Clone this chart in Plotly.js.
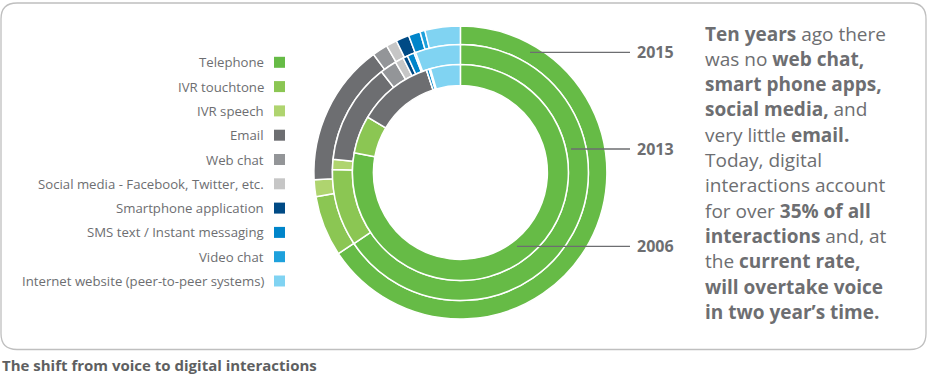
<!DOCTYPE html>
<html>
<head>
<meta charset="utf-8">
<script src="https://cdn.plot.ly/plotly-3.0.1.min.js"></script>
<style>html,body{margin:0;padding:0;background:#fff;}#chart{width:928px;height:377px;}</style>
</head>
<body>
<div id="chart"></div>
<script>
// ---- data ----
const categories = ["Telephone","IVR touchtone","IVR speech","Email","Web chat",
  "Social media - Facebook, Twitter, etc.","Smartphone application",
  "SMS text / Instant messaging","Video chat","Internet website (peer-to-peer systems)"];
const colors = ["#66BB46","#8BC653","#AFD46F","#6D6E71","#939598","#C6C6C6","#004A85","#0085CA","#1EA1DC","#80D3F2"];
const years = ["2015","2013","2006"];
const share2015 = [65.7, 6.7, 1.85, 15.7, 1.7, 1.2, 1.45, 1.3, 0.55, 3.9];
const share2013 = [65.8, 9.75, 1.3, 12.8, 2.1, 1.1, 0.6, 0.9, 0.2, 5.7];
const share2006 = [78.3, 5.7, 0, 11.4, 0, 0, 0, 0.4, 0.2, 4.5];

const W = 928, H = 377;
const px = x => x / W;
const py = y => 1 - y / H;
const cx = 460.4, cy = 172.5;
function ring(values, rOut, rIn) {
  return {
    type: "pie", values: values, labels: categories, sort: false,
    direction: "clockwise", rotation: 0, hole: rIn / rOut,
    marker: {colors: colors, line: {color: "#ffffff", width: 1.5}},
    textinfo: "none", hoverinfo: "label+percent", showlegend: false,
    domain: {x: [px(cx - rOut), px(cx + rOut)], y: [py(cy + rOut), py(cy - rOut)]}
  };
}
const data = [
  ring(share2015, 146.5, 128),
  ring(share2013, 128, 108),
  ring(share2006, 108, 87)
];

const grey = "#6D6E71";
const shapes = [];
const annotations = [];

// rounded frame
(function(){
  const x0 = 1, x1 = 926, y0 = 3, y1 = 349.5, r = 16;
  const P = (x, y) => px(x) + "," + py(y);
  shapes.push({type: "path", xref: "paper", yref: "paper",
    path: "M" + P(x0 + r, y0) + " L" + P(x1 - r, y0) + " Q" + P(x1, y0) + " " + P(x1, y0 + r) +
      " L" + P(x1, y1 - r) + " Q" + P(x1, y1) + " " + P(x1 - r, y1) +
      " L" + P(x0 + r, y1) + " Q" + P(x0, y1) + " " + P(x0, y1 - r) +
      " L" + P(x0, y0 + r) + " Q" + P(x0, y0) + " " + P(x0 + r, y0) + " Z",
    line: {color: "#BFBFBF", width: 1.3}});
})();

// legend (text right-aligned, swatch at right)
const legTop = 62.3, legStep = 24.3;
categories.forEach((c, i) => {
  const y = legTop + i * legStep;
  annotations.push({xref: "paper", yref: "paper", x: px(266), y: py(y), xanchor: "right", yanchor: "middle",
    text: c, showarrow: false, font: {family: "Open Sans", size: 13.2, color: grey}});
  shapes.push({type: "rect", xref: "paper", yref: "paper", x0: px(274), x1: px(285), y0: py(y + 5.5), y1: py(y - 5.5),
    fillcolor: colors[i], line: {width: 0}});
});

// year labels with leader lines
const yearY = [52.3, 149, 246.3];
const lineStart = [530, 571, 517];
years.forEach((yr, i) => {
  shapes.push({type: "line", xref: "paper", yref: "paper", x0: px(lineStart[i]), x1: px(630), y0: py(yearY[i]), y1: py(yearY[i]),
    line: {color: grey, width: 1.3}});
  annotations.push({xref: "paper", yref: "paper", x: px(635), y: py(yearY[i]), xanchor: "left", yanchor: "middle",
    text: "<b>" + yr + "</b>", showarrow: false, font: {family: "Open Sans", size: 16, color: grey}});
});

// right text block
const para = ["<b>Ten years</b> ago there", "was no <b>web chat,</b>", "<b>smart phone apps,</b>",
  "<b>social media,</b> and", "very little <b>email.</b>", "Today, digital", "interactions account",
  "for over <b>35% of all</b>", "<b>interactions</b> and, at", "the <b>current rate,</b>",
  "<b>will overtake voice</b>", "<b>in two year’s time.</b>"];
para.forEach((t, i) => {
  annotations.push({xref: "paper", yref: "paper", x: px(703), y: py(33.5 + i * 25.3), xanchor: "left", yanchor: "middle",
    text: t, showarrow: false, font: {family: "Open Sans", size: 19, color: grey}});
});

// caption
annotations.push({xref: "paper", yref: "paper", x: 0, y: py(365), xanchor: "left", yanchor: "middle",
  text: "<b>The shift from voice to digital interactions</b>", showarrow: false,
  font: {family: "Open Sans", size: 15, color: "#5E5F61"}});

const layout = {width: W, height: H, margin: {l: 0, r: 0, t: 0, b: 0},
  paper_bgcolor: "#ffffff", plot_bgcolor: "#ffffff", showlegend: false,
  shapes: shapes, annotations: annotations};
Plotly.newPlot("chart", data, layout, {displayModeBar: false, staticPlot: true});
</script>
</body>
</html>
